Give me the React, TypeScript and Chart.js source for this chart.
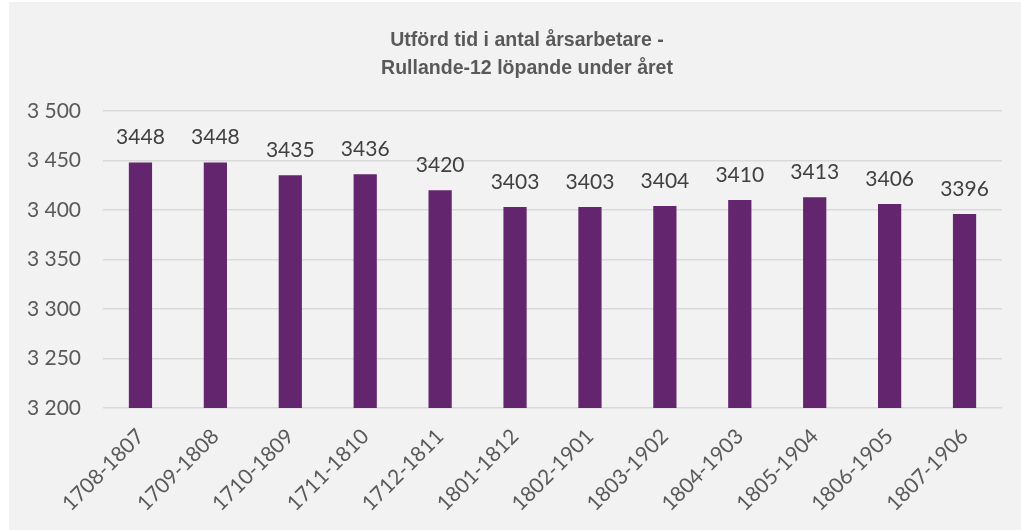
import React, { useEffect, useRef } from "react";
import { Chart, registerables } from "chart.js";

Chart.register(...registerables);

const categories = [
  "1708-1807", "1709-1808", "1710-1809", "1711-1810", "1712-1811", "1801-1812",
  "1802-1901", "1803-1902", "1804-1903", "1805-1904", "1806-1905", "1807-1906",
];
const values = [3448, 3448, 3435, 3436, 3420, 3403, 3403, 3404, 3410, 3413, 3406, 3396];
const titleLines = ["Utförd tid i antal årsarbetare -", "Rullande-12 löpande under året"];
const yMin = 3200;
const yMax = 3500;
const yStep = 50;

const labelFont = "Lato, 'Open Sans', 'Liberation Sans', sans-serif";

export default function App() {
  const ref = useRef<HTMLCanvasElement | null>(null);
  useEffect(() => {
    if (!ref.current) return;
    const valueLabels = {
      id: "valueLabels",
      afterDatasetsDraw(chart: any) {
        const ctx = chart.ctx;
        const meta = chart.getDatasetMeta(0);
        ctx.save();
        ctx.fillStyle = "#404040";
        ctx.font = `21px ${labelFont}`;
        ctx.textAlign = "center";
        ctx.textBaseline = "alphabetic";
        meta.data.forEach((bar: any, i: number) => {
          ctx.fillText(String(values[i]), bar.x, bar.y - 18);
        });
        ctx.restore();
      },
    };
    const titlePlugin = {
      id: "customTitle",
      afterDraw(chart: any) {
        const ctx = chart.ctx;
        ctx.save();
        ctx.fillStyle = "#595959";
        ctx.font = "bold 21px 'Liberation Sans Narrow', 'Liberation Sans', Arial, sans-serif";
        ctx.textAlign = "center";
        ctx.textBaseline = "alphabetic";
        const cx = 518;
        ctx.translate(cx, 0);
        ctx.scale(0.93, 1);
        ctx.fillText(titleLines[0], 0, 44);
        ctx.fillText(titleLines[1], 0, 72);
        ctx.restore();
      },
    };
    const chart = new Chart(ref.current, {
      type: "bar",
      data: {
        labels: categories,
        datasets: [
          {
            data: values,
            backgroundColor: "#62256e",
            categoryPercentage: 1,
            barPercentage: 0.31,
          },
        ],
      },
      options: {
        animation: false,
        responsive: false,
        maintainAspectRatio: false,
        layout: { padding: { left: 0, right: 19, top: 109, bottom: 0 } },
        plugins: {
          legend: { display: false },
          title: { display: false },
          tooltip: { enabled: false },
        },
        scales: {
          x: {
            grid: { display: false },
            border: { display: false },
            ticks: {
              color: "#595959",
              font: { size: 21, family: labelFont },
              maxRotation: 45,
              minRotation: 45,
              padding: 8,
              autoSkip: false,
            },
            afterFit: (s: any) => {
              s.height = 122;
            },
          },
          y: {
            min: yMin,
            max: yMax,
            border: { display: false },
            grid: { color: "#d9d9d9", lineWidth: 1.5, drawTicks: false },
            ticks: {
              stepSize: yStep,
              color: "#595959",
              font: { size: 21, family: labelFont },
              padding: 22,
              callback: (v: any) => {
                const s = String(v);
                return s.replace(/\B(?=(\d{3})+(?!\d))/g, " ");
              },
            },
            afterFit: (s: any) => {
              s.width = 94;
            },
          },
        },
      },
      plugins: [valueLabels, titlePlugin],
    });
    return () => chart.destroy();
  }, []);
  return (
    <div
      style={{
        position: "absolute",
        left: 9,
        top: 2,
        width: 1012,
        height: 528,
        background: "#f2f2f2",
      }}
    >
      <canvas ref={ref} width={1012} height={528} style={{ display: "block" }} />
    </div>
  );
}
